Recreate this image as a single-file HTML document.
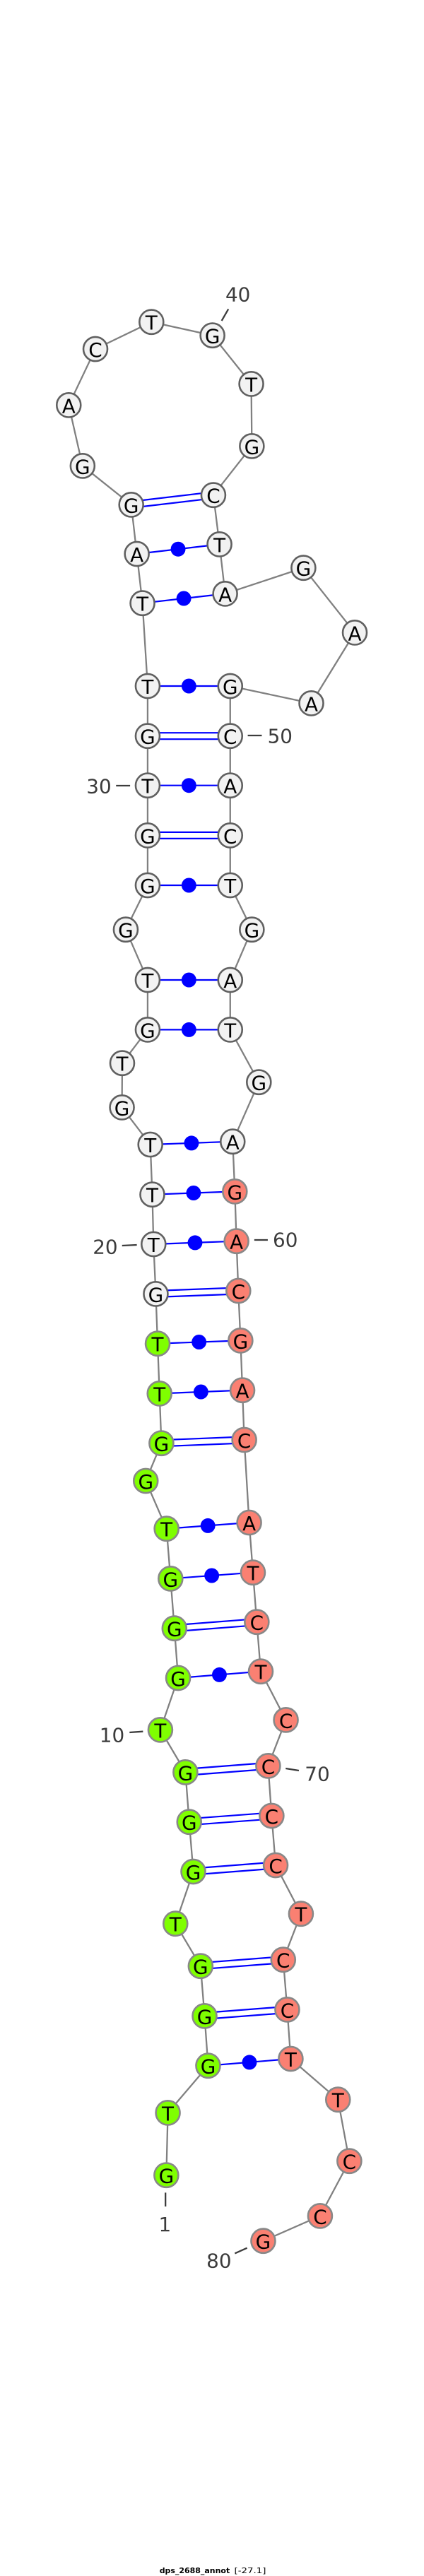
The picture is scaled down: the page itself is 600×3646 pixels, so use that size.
<!DOCTYPE html>
<html>
<head>
<meta charset="utf-8">
<style>
html,body{margin:0;padding:0;background:#fff}
svg{display:block}
.b{stroke:#808080;stroke-width:2.3;fill:none}
.p{stroke:#0000ff;stroke-width:2.2;fill:none}
.k{stroke:#3c3c3c;stroke-width:2.3;fill:none}
.d{fill:#0000ff}
circle.w{fill:#f2f2f2;stroke:#606060;stroke-width:2.6;r:17.1px}
circle.g{fill:#7fff00;stroke:#888888;stroke-width:2.6;r:17.1px}
circle.s{fill:#fa8072;stroke:#888888;stroke-width:2.6;r:17.1px}
text{font-family:"DejaVu Sans","Liberation Sans",sans-serif}
.n{font-size:28px;text-anchor:middle;fill:#000}
.l{font-size:28px;text-anchor:middle;fill:#3c3c3c}
.t{font-size:11px;fill:#000}
</style>
</head>
<body>
<svg width="600" height="3646" viewBox="0 0 600 3646" xmlns="http://www.w3.org/2000/svg">
<rect width="600" height="3646" fill="#fff"/>
<g transform="translate(-0.1,-0.3) scale(0.9935,1)">
<polyline class="b" points="237,3079 239.2,2990.7 296.5,2924 291.5,2853.7 285.8,2783 250,2723 275.4,2649.3 269.6,2579 264.2,2508.7 228.5,2448.7 253.8,2375.3 248.5,2305 243,2234.7 237.3,2164 207.7,2096.3 230,2043 227.3,1972.7 224.6,1902 222,1831.7 218.8,1761.3 217,1691 214.2,1620.3 173.8,1567.7 174.2,1505 210.4,1457.7 210.4,1387.3 179.2,1316 210.4,1253.3 210.4,1182.7 210.4,1112 210.4,1042 210.4,971.3 203,854 195,784.3 187,714.7 117.7,659.7 98,573.7 136,494.3 215.8,456 302.7,475 358,543.7 358.8,631.7 304,701 312.7,770.7 320.8,840.7 432.3,804 505.4,895.7 443.5,995.7 328,971.3 328,1042 328,1112 328,1182.7 328,1253.3 358.8,1316 328,1387.3 328,1457.7 368.8,1532 331.5,1616 334.6,1686.7 336.9,1757 339.6,1827.3 342.7,1897.7 345.4,1968 348,2038.3 355,2155.3 360.4,2226 365.8,2296 371.5,2366 407.3,2434.7 382,2499.7 387,2570.3 392.7,2640.3 428.8,2709 403.5,2774 409.2,2844.7 414.2,2914.3 481.5,2972 497.7,3059 456,3136.7 375,3172"/>
<line class="p" x1="187" y1="710.2" x2="304" y2="696.5"/><line class="p" x1="187" y1="719.2" x2="304" y2="705.5"/>
<line class="p" x1="195" y1="784.3" x2="312.7" y2="770.7"/><circle class="d" cx="253.8" cy="777.5" r="10.5"/>
<line class="p" x1="203" y1="854" x2="320.8" y2="840.7"/><circle class="d" cx="261.9" cy="847.3" r="10.5"/>
<line class="p" x1="210.4" y1="971.3" x2="328" y2="971.3"/><circle class="d" cx="269.2" cy="971.3" r="10.5"/>
<line class="p" x1="210.4" y1="1037.5" x2="328" y2="1037.5"/><line class="p" x1="210.4" y1="1046.5" x2="328" y2="1046.5"/>
<line class="p" x1="210.4" y1="1112" x2="328" y2="1112"/><circle class="d" cx="269.2" cy="1112" r="10.5"/>
<line class="p" x1="210.4" y1="1178.2" x2="328" y2="1178.2"/><line class="p" x1="210.4" y1="1187.2" x2="328" y2="1187.2"/>
<line class="p" x1="210.4" y1="1253.3" x2="328" y2="1253.3"/><circle class="d" cx="269.2" cy="1253.3" r="10.5"/>
<line class="p" x1="210.4" y1="1387.3" x2="328" y2="1387.3"/><circle class="d" cx="269.2" cy="1387.3" r="10.5"/>
<line class="p" x1="210.4" y1="1457.7" x2="328" y2="1457.7"/><circle class="d" cx="269.2" cy="1457.7" r="10.5"/>
<line class="p" x1="214.2" y1="1620.3" x2="331.5" y2="1616"/><circle class="d" cx="272.8" cy="1618.2" r="10.5"/>
<line class="p" x1="217" y1="1691" x2="334.6" y2="1686.7"/><circle class="d" cx="275.8" cy="1688.8" r="10.5"/>
<line class="p" x1="218.8" y1="1761.3" x2="336.9" y2="1757"/><circle class="d" cx="277.9" cy="1759.2" r="10.5"/>
<line class="p" x1="222" y1="1827.2" x2="339.6" y2="1822.8"/><line class="p" x1="222" y1="1836.2" x2="339.6" y2="1831.8"/>
<line class="p" x1="224.6" y1="1902" x2="342.7" y2="1897.7"/><circle class="d" cx="283.6" cy="1899.8" r="10.5"/>
<line class="p" x1="227.3" y1="1972.7" x2="345.4" y2="1968"/><circle class="d" cx="286.3" cy="1970.3" r="10.5"/>
<line class="p" x1="230" y1="2038.5" x2="348" y2="2033.8"/><line class="p" x1="230" y1="2047.5" x2="348" y2="2042.8"/>
<line class="p" x1="237.3" y1="2164" x2="355" y2="2155.3"/><circle class="d" cx="296.2" cy="2159.7" r="10.5"/>
<line class="p" x1="243" y1="2234.7" x2="360.4" y2="2226"/><circle class="d" cx="301.7" cy="2230.3" r="10.5"/>
<line class="p" x1="248.5" y1="2300.5" x2="365.8" y2="2291.5"/><line class="p" x1="248.5" y1="2309.5" x2="365.8" y2="2300.5"/>
<line class="p" x1="253.8" y1="2375.3" x2="371.5" y2="2366"/><circle class="d" cx="312.6" cy="2370.7" r="10.5"/>
<line class="p" x1="264.2" y1="2504.2" x2="382" y2="2495.2"/><line class="p" x1="264.2" y1="2513.2" x2="382" y2="2504.2"/>
<line class="p" x1="269.6" y1="2574.5" x2="387" y2="2565.8"/><line class="p" x1="269.6" y1="2583.5" x2="387" y2="2574.8"/>
<line class="p" x1="275.4" y1="2644.8" x2="392.7" y2="2635.8"/><line class="p" x1="275.4" y1="2653.8" x2="392.7" y2="2644.8"/>
<line class="p" x1="285.8" y1="2778.5" x2="403.5" y2="2769.5"/><line class="p" x1="285.8" y1="2787.5" x2="403.5" y2="2778.5"/>
<line class="p" x1="291.5" y1="2849.2" x2="409.2" y2="2840.2"/><line class="p" x1="291.5" y1="2858.2" x2="409.2" y2="2849.2"/>
<line class="p" x1="296.5" y1="2924" x2="414.2" y2="2914.3"/><circle class="d" cx="355.4" cy="2919.2" r="10.5"/>
<line class="k" x1="325.4" y1="437.7" x2="315.8" y2="454.3"/>
<line class="k" x1="353" y1="1041.3" x2="373" y2="1041.3"/>
<line class="k" x1="165.4" y1="1112.3" x2="185.4" y2="1112.3"/>
<line class="k" x1="174" y1="1763.3" x2="195" y2="1762.3"/>
<line class="k" x1="362.3" y1="1755.3" x2="381.5" y2="1755.3"/>
<line class="k" x1="184.6" y1="2452.3" x2="203.8" y2="2451"/>
<line class="k" x1="407" y1="2503.3" x2="425.8" y2="2506.3"/>
<line class="k" x1="235.8" y1="3103.7" x2="235.8" y2="3123.3"/>
<line class="k" x1="334.6" y1="3189.7" x2="352" y2="3182"/>
<g>
<circle class="g" cx="237" cy="3079" r="17.1"/><circle class="g" cx="239.2" cy="2990.7" r="17.1"/><circle class="g" cx="296.5" cy="2924" r="17.1"/><circle class="g" cx="291.5" cy="2853.7" r="17.1"/><circle class="g" cx="285.8" cy="2783" r="17.1"/><circle class="g" cx="250" cy="2723" r="17.1"/><circle class="g" cx="275.4" cy="2649.3" r="17.1"/><circle class="g" cx="269.6" cy="2579" r="17.1"/><circle class="g" cx="264.2" cy="2508.7" r="17.1"/><circle class="g" cx="228.5" cy="2448.7" r="17.1"/><circle class="g" cx="253.8" cy="2375.3" r="17.1"/><circle class="g" cx="248.5" cy="2305" r="17.1"/><circle class="g" cx="243" cy="2234.7" r="17.1"/><circle class="g" cx="237.3" cy="2164" r="17.1"/><circle class="g" cx="207.7" cy="2096.3" r="17.1"/><circle class="g" cx="230" cy="2043" r="17.1"/><circle class="g" cx="227.3" cy="1972.7" r="17.1"/><circle class="g" cx="224.6" cy="1902" r="17.1"/>
<circle class="w" cx="222" cy="1831.7" r="17.1"/><circle class="w" cx="218.8" cy="1761.3" r="17.1"/><circle class="w" cx="217" cy="1691" r="17.1"/><circle class="w" cx="214.2" cy="1620.3" r="17.1"/><circle class="w" cx="173.8" cy="1567.7" r="17.1"/><circle class="w" cx="174.2" cy="1505" r="17.1"/><circle class="w" cx="210.4" cy="1457.7" r="17.1"/><circle class="w" cx="210.4" cy="1387.3" r="17.1"/><circle class="w" cx="179.2" cy="1316" r="17.1"/><circle class="w" cx="210.4" cy="1253.3" r="17.1"/><circle class="w" cx="210.4" cy="1182.7" r="17.1"/><circle class="w" cx="210.4" cy="1112" r="17.1"/><circle class="w" cx="210.4" cy="1042" r="17.1"/><circle class="w" cx="210.4" cy="971.3" r="17.1"/><circle class="w" cx="203" cy="854" r="17.1"/><circle class="w" cx="195" cy="784.3" r="17.1"/><circle class="w" cx="187" cy="714.7" r="17.1"/><circle class="w" cx="117.7" cy="659.7" r="17.1"/><circle class="w" cx="98" cy="573.7" r="17.1"/><circle class="w" cx="136" cy="494.3" r="17.1"/><circle class="w" cx="215.8" cy="456" r="17.1"/><circle class="w" cx="302.7" cy="475" r="17.1"/><circle class="w" cx="358" cy="543.7" r="17.1"/><circle class="w" cx="358.8" cy="631.7" r="17.1"/><circle class="w" cx="304" cy="701" r="17.1"/><circle class="w" cx="312.7" cy="770.7" r="17.1"/><circle class="w" cx="320.8" cy="840.7" r="17.1"/><circle class="w" cx="432.3" cy="804" r="17.1"/><circle class="w" cx="505.4" cy="895.7" r="17.1"/><circle class="w" cx="443.5" cy="995.7" r="17.1"/><circle class="w" cx="328" cy="971.3" r="17.1"/><circle class="w" cx="328" cy="1042" r="17.1"/><circle class="w" cx="328" cy="1112" r="17.1"/><circle class="w" cx="328" cy="1182.7" r="17.1"/><circle class="w" cx="328" cy="1253.3" r="17.1"/><circle class="w" cx="358.8" cy="1316" r="17.1"/><circle class="w" cx="328" cy="1387.3" r="17.1"/><circle class="w" cx="328" cy="1457.7" r="17.1"/><circle class="w" cx="368.8" cy="1532" r="17.1"/><circle class="w" cx="331.5" cy="1616" r="17.1"/>
<circle class="s" cx="334.6" cy="1686.7" r="17.1"/><circle class="s" cx="336.9" cy="1757" r="17.1"/><circle class="s" cx="339.6" cy="1827.3" r="17.1"/><circle class="s" cx="342.7" cy="1897.7" r="17.1"/><circle class="s" cx="345.4" cy="1968" r="17.1"/><circle class="s" cx="348" cy="2038.3" r="17.1"/><circle class="s" cx="355" cy="2155.3" r="17.1"/><circle class="s" cx="360.4" cy="2226" r="17.1"/><circle class="s" cx="365.8" cy="2296" r="17.1"/><circle class="s" cx="371.5" cy="2366" r="17.1"/><circle class="s" cx="407.3" cy="2434.7" r="17.1"/><circle class="s" cx="382" cy="2499.7" r="17.1"/><circle class="s" cx="387" cy="2570.3" r="17.1"/><circle class="s" cx="392.7" cy="2640.3" r="17.1"/><circle class="s" cx="428.8" cy="2709" r="17.1"/><circle class="s" cx="403.5" cy="2774" r="17.1"/><circle class="s" cx="409.2" cy="2844.7" r="17.1"/><circle class="s" cx="414.2" cy="2914.3" r="17.1"/><circle class="s" cx="481.5" cy="2972" r="17.1"/><circle class="s" cx="497.7" cy="3059" r="17.1"/><circle class="s" cx="456" cy="3136.7" r="17.1"/><circle class="s" cx="375" cy="3172" r="17.1"/>
</g>
<g transform="translate(0,1)">
<text class="n" x="237" y="3089">G</text><text class="n" x="239.2" y="3000.7">T</text><text class="n" x="296.5" y="2934">G</text><text class="n" x="291.5" y="2863.7">G</text><text class="n" x="285.8" y="2793">G</text><text class="n" x="250" y="2733">T</text><text class="n" x="275.4" y="2659.3">G</text><text class="n" x="269.6" y="2589">G</text><text class="n" x="264.2" y="2518.7">G</text><text class="n" x="228.5" y="2458.7">T</text>
<text class="n" x="253.8" y="2385.3">G</text><text class="n" x="248.5" y="2315">G</text><text class="n" x="243" y="2244.7">G</text><text class="n" x="237.3" y="2174">T</text><text class="n" x="207.7" y="2106.3">G</text><text class="n" x="230" y="2053">G</text><text class="n" x="227.3" y="1982.7">T</text><text class="n" x="224.6" y="1912">T</text><text class="n" x="222" y="1841.7">G</text><text class="n" x="218.8" y="1771.3">T</text>
<text class="n" x="217" y="1701">T</text><text class="n" x="214.2" y="1630.3">T</text><text class="n" x="173.8" y="1577.7">G</text><text class="n" x="174.2" y="1515">T</text><text class="n" x="210.4" y="1467.7">G</text><text class="n" x="210.4" y="1397.3">T</text><text class="n" x="179.2" y="1326">G</text><text class="n" x="210.4" y="1263.3">G</text><text class="n" x="210.4" y="1192.7">G</text><text class="n" x="210.4" y="1122">T</text>
<text class="n" x="210.4" y="1052">G</text><text class="n" x="210.4" y="981.3">T</text><text class="n" x="203" y="864">T</text><text class="n" x="195" y="794.3">A</text><text class="n" x="187" y="724.7">G</text><text class="n" x="117.7" y="669.7">G</text><text class="n" x="98" y="583.7">A</text><text class="n" x="136" y="504.3">C</text><text class="n" x="215.8" y="466">T</text><text class="n" x="302.7" y="485">G</text>
<text class="n" x="358" y="553.7">T</text><text class="n" x="358.8" y="641.7">G</text><text class="n" x="304" y="711">C</text><text class="n" x="312.7" y="780.7">T</text><text class="n" x="320.8" y="850.7">A</text><text class="n" x="432.3" y="814">G</text><text class="n" x="505.4" y="905.7">A</text><text class="n" x="443.5" y="1005.7">A</text><text class="n" x="328" y="981.3">G</text><text class="n" x="328" y="1052">C</text>
<text class="n" x="328" y="1122">A</text><text class="n" x="328" y="1192.7">C</text><text class="n" x="328" y="1263.3">T</text><text class="n" x="358.8" y="1326">G</text><text class="n" x="328" y="1397.3">A</text><text class="n" x="328" y="1467.7">T</text><text class="n" x="368.8" y="1542">G</text><text class="n" x="331.5" y="1626">A</text><text class="n" x="334.6" y="1696.7">G</text><text class="n" x="336.9" y="1767">A</text>
<text class="n" x="339.6" y="1837.3">C</text><text class="n" x="342.7" y="1907.7">G</text><text class="n" x="345.4" y="1978">A</text><text class="n" x="348" y="2048.3">C</text><text class="n" x="355" y="2165.3">A</text><text class="n" x="360.4" y="2236">T</text><text class="n" x="365.8" y="2306">C</text><text class="n" x="371.5" y="2376">T</text><text class="n" x="407.3" y="2444.7">C</text><text class="n" x="382" y="2509.7">C</text>
<text class="n" x="387" y="2580.3">C</text><text class="n" x="392.7" y="2650.3">C</text><text class="n" x="428.8" y="2719">T</text><text class="n" x="403.5" y="2784">C</text><text class="n" x="409.2" y="2854.7">C</text><text class="n" x="414.2" y="2924.3">T</text><text class="n" x="481.5" y="2982">T</text><text class="n" x="497.7" y="3069">C</text><text class="n" x="456" y="3146.7">C</text><text class="n" x="375" y="3182">G</text>
</g>
<text class="l" x="339" y="427">40</text>
<text class="l" x="399" y="1052">50</text>
<text class="l" x="141" y="1123">30</text>
<text class="l" x="150" y="1775">20</text>
<text class="l" x="406.5" y="1765">60</text>
<text class="l" x="159.6" y="2466">10</text>
<text class="l" x="452" y="2521">70</text>
<text class="l" x="235" y="3158.5">1</text>
<text class="l" x="312" y="3210">80</text>
</g>
<text class="t" x="225.7" y="3642" font-weight="700" textLength="99.5" lengthAdjust="spacingAndGlyphs">dps_2688_annot</text>
<text class="t" x="331.5" y="3642" textLength="45" lengthAdjust="spacingAndGlyphs">[-27.1]</text>
</svg>
</body>
</html>
